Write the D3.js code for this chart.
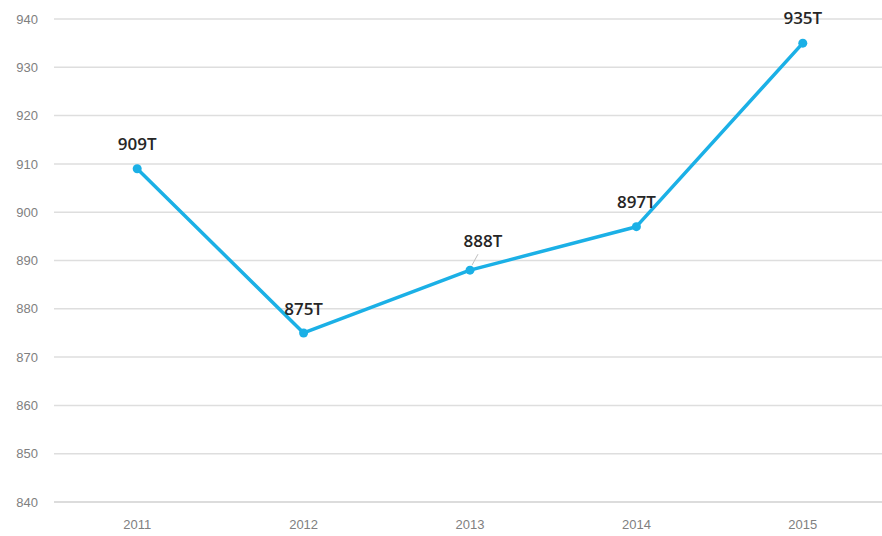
<!DOCTYPE html>
<html>
<head>
<meta charset="utf-8">
<script src="https://cdn.jsdelivr.net/npm/d3@7"></script>
<style>
  body { margin: 0; background: #fff; }
  #chart-container { width: 882px; height: 536px; }
</style>
</head>
<body>
<div id="chart-container"></div>
<script>
const years = ["2011", "2012", "2013", "2014", "2015"];
const values = [909, 875, 888, 897, 935];
const valueLabels = ["909T", "875T", "888T", "897T", "935T"];
const yTicks = [840, 850, 860, 870, 880, 890, 900, 910, 920, 930, 940];

const width = 882;
const height = 536;
const margin = { top: 19, right: -4, bottom: 34, left: 54 };

const colorPalette = {
  line: "#1bb0e6",
  grid: "#dedede",
  tickText: "#808080",
  label: "#262626",
};

const svg = d3
  .select("#chart-container")
  .append("svg")
  .attr("width", width)
  .attr("height", height);

const x = d3
  .scaleBand()
  .domain(years)
  .range([margin.left, width - margin.right]);

const y = d3
  .scaleLinear()
  .domain([840, 940])
  .range([height - margin.bottom, margin.top]);

// horizontal gridlines
svg
  .append("g")
  .selectAll("line")
  .data(yTicks)
  .enter()
  .append("line")
  .attr("x1", margin.left)
  .attr("x2", width)
  .attr("y1", (d) => y(d))
  .attr("y2", (d) => y(d))
  .attr("stroke", (d) => (d === 840 ? "#d0d0d0" : colorPalette.grid))
  .attr("stroke-width", 1.5);

// y axis labels
const yAxis = d3.axisLeft(y).tickValues(yTicks).tickSize(0).tickPadding(16);
svg
  .append("g")
  .attr("transform", `translate(${margin.left},0)`)
  .call(yAxis)
  .call((g) => g.select(".domain").remove())
  .selectAll("text")
  .attr("fill", colorPalette.tickText)
  .attr("font-family", "'Liberation Sans', sans-serif")
  .attr("font-size", 13);

// x axis labels
const xAxis = d3.axisBottom(x).tickSize(0).tickPadding(18);
svg
  .append("g")
  .attr("transform", `translate(0,${height - margin.bottom})`)
  .call(xAxis)
  .call((g) => g.select(".domain").remove())
  .selectAll("text")
  .attr("fill", colorPalette.tickText)
  .attr("font-family", "'Liberation Sans', sans-serif")
  .attr("font-size", 13);

const cx = (i) => x(years[i]) + x.bandwidth() / 2;

const line = d3
  .line()
  .x((d, i) => cx(i))
  .y((d) => y(d));

svg
  .append("path")
  .datum(values)
  .attr("d", line)
  .attr("fill", "none")
  .attr("stroke", colorPalette.line)
  .attr("stroke-width", 3.5)
  .attr("stroke-linejoin", "round");

svg
  .append("g")
  .selectAll("circle")
  .data(values)
  .enter()
  .append("circle")
  .attr("cx", (d, i) => cx(i))
  .attr("cy", (d) => y(d))
  .attr("r", 4.5)
  .attr("fill", colorPalette.line);

// the 2013 label is pushed aside, with a small leader line
const labelShift = (i) => (i === 2 ? [13, -23] : i === 1 ? [0, -18] : [0, -19]);

svg
  .append("line")
  .attr("x1", cx(2) + 2)
  .attr("y1", y(values[2]) - 5)
  .attr("x2", cx(2) + 8)
  .attr("y2", y(values[2]) - 16)
  .attr("stroke", "#bfbfbf")
  .attr("stroke-width", 1);

svg
  .append("g")
  .selectAll("text")
  .data(valueLabels)
  .enter()
  .append("text")
  .attr("x", (d, i) => cx(i) + labelShift(i)[0])
  .attr("y", (d, i) => y(values[i]) + labelShift(i)[1])
  .attr("text-anchor", "middle")
  .attr("fill", colorPalette.label)
  .attr("font-family", "'Open Sans', sans-serif")
  .attr("font-weight", 600)
  .attr("font-size", 17)
  .text((d) => d);
</script>
</body>
</html>
